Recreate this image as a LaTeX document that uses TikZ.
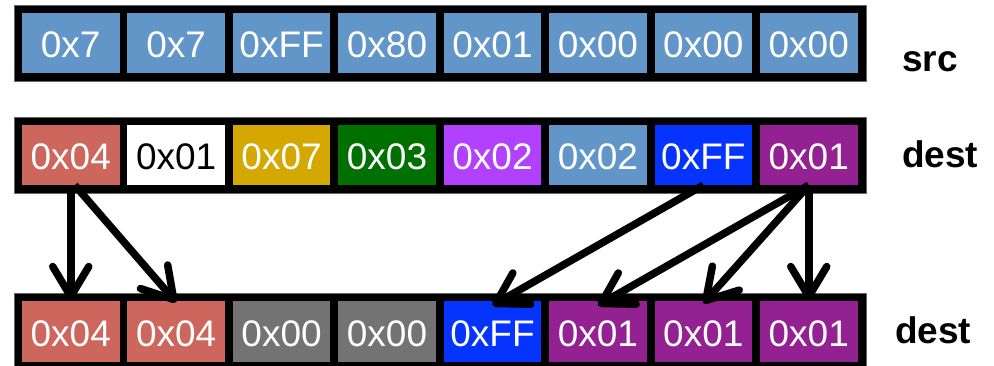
\documentclass[tikz,border=0pt]{standalone}
\usepackage{fontspec}
\setmainfont{Liberation Sans}
\usetikzlibrary{arrows.meta}
\definecolor{cblue}{RGB}{98,150,201}
\definecolor{csalmon}{RGB}{205,103,94}
\definecolor{cgold}{RGB}{212,168,0}
\definecolor{cgreen}{RGB}{0,112,0}
\definecolor{cviolet}{RGB}{177,64,255}
\definecolor{cbright}{RGB}{5,51,255}
\definecolor{cpurple}{RGB}{148,33,146}
\definecolor{cgray}{RGB}{115,115,115}
\begin{document}
\begin{tikzpicture}[x=1pt,y=-1pt,
  cell/.style={rectangle, inner sep=0pt, minimum width=97.5pt, minimum height=60pt,
    text height=30pt, text depth=0pt, font=\fontsize{37}{40}\selectfont, text=white},
  framebox/.style={fill=black, draw=black!60, line width=0.6pt},
  lbl/.style={font=\fontsize{37}{40}\selectfont\bfseries, anchor=base west, inner sep=0pt},
  arr/.style={line width=7.5pt, -{Straight Barb[length=30pt,width=36pt,round]}}]
\useasboundingbox (0,0) rectangle (994,366);
\clip (0,0) rectangle (994,366);
% frames
\filldraw[framebox] (14,5) rectangle (866,81);
\filldraw[framebox] (14,117) rectangle (866,193);
\filldraw[framebox] (14,293) rectangle (866,372);
% row 1: src
\foreach \i/\t in {0/0x7,1/0x7,2/0xFF,3/0x80,4/0x01,5/0x00,6/0x00,7/0x00}
  \node[cell, fill=cblue] (s\i) at (70.75+105.43*\i,43) {\t};
% row 2: dest
\foreach \i/\c/\tc/\t in {0/csalmon/white/0x04,1/white/black/0x01,2/cgold/white/0x07,3/cgreen/white/0x03,4/cviolet/white/0x02,5/cblue/white/0x02,6/cbright/white/0xFF,7/cpurple/white/0x01}
  \node[cell, fill=\c, text=\tc] (d\i) at (70.75+105.43*\i,155) {\t};
% row 3: dest
\foreach \i/\c/\t in {0/csalmon/0x04,1/csalmon/0x04,2/cgray/0x00,3/cgray/0x00,4/cbright/0xFF,5/cpurple/0x01,6/cpurple/0x01,7/cpurple/0x01}
  \node[cell, fill=\c] (e\i) at (70.75+105.43*\i,331.5) {\t};
% labels
\node[lbl] (lsrc) at (902,72) {src};
\node[lbl] (ldest1) at (902,168) {dest};
\node[lbl] (ldest2) at (895,344) {dest};
% arrows
\draw[arr] (d0.south) -- ([yshift=1pt]e0.north);
\draw[arr] ([xshift=4pt]d0.south) -- ([yshift=-1pt]e1.north);
\draw[arr] (d6.south) -- ([yshift=-4pt]e4.north);
\draw[arr] (d7.south) -- ([yshift=-4pt]e5.north);
\draw[arr] (d7.south) -- ([yshift=-2pt]e6.north);
\draw[arr] (d7.south) -- ([yshift=1pt]e7.north);
\end{tikzpicture}
\end{document}
